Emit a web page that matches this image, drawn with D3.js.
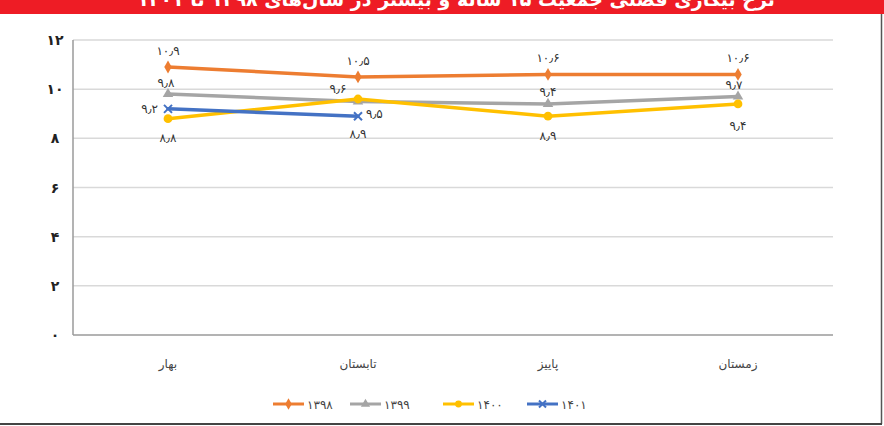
<!DOCTYPE html>
<html>
<head>
<meta charset="utf-8">
<script src="https://cdn.jsdelivr.net/npm/d3@7"></script>
<style>
  body { margin: 0; background: #fff; }
  svg { display: block; }
</style>
</head>
<body>
<div id="chart"></div>
<script>
var seasons = ["بهار", "تابستان", "پاییز", "زمستان"];
var years = ["1398", "1399", "1400", "1401"];
var v1398 = [10.9, 10.5, 10.6, 10.6];
var v1399 = [9.8, 9.5, 9.4, 9.7];
var v1400 = [8.8, 9.6, 8.9, 9.4];
var v1401 = [9.2, 8.9];
var yTicks = [0, 2, 4, 6, 8, 10, 12];
var colors = ["#ED7D31", "#A5A5A5", "#FFC000", "#4472C4"];
var markers = ["diamond", "triangle", "circle", "cross"];
// label placement per point: [dx, dy, anchor]
var labelPos = [
  [[0, -12, "middle"], [0, -12, "middle"], [0, -12, "middle"], [0, -12, "middle"]],
  [[-2, -7, "middle"], [8, 17, "start"], [0, -8, "middle"], [-4, -8, "middle"]],
  [[0, 23, "middle"], [-20, -6, "middle"], [0, 24, "middle"], [0, 26, "middle"]],
  [[-10, 4, "end"], [0, 22, "middle"]]
];

var width = 884, height = 426;
var margin = { left: 73, right: 51, top: 40, bottom: 91 };

function fa(s) {
  return String(s).replace(/[0-9]/g, d => "۰۱۲۳۴۵۶۷۸۹"[+d]).replace(".", "٫");
}

var series = [v1398, v1399, v1400, v1401].map((vals, i) => ({
  name: years[i], color: colors[i], marker: markers[i], labels: labelPos[i],
  values: vals.map((v, j) => ({ season: seasons[j], value: v }))
}));

var svg = d3.select("#chart").append("svg").attr("width", width).attr("height", height);
var font = "'DejaVu Sans', sans-serif";

// red title bar, text cut off by the top edge as in the source
svg.append("rect").attr("x", 0).attr("y", 0).attr("width", width).attr("height", 14).attr("fill", "#EE1C25");
svg.append("text").text("نرخ بیکاری فصلی جمعیت ۱۵ ساله و بیشتر در سال‌های ۱۳۹۸ تا ۱۴۰۱")
  .attr("x", 775).attr("y", 6).attr("direction", "rtl").attr("text-anchor", "start")
  .style("font-family", font).style("font-size", "19px").style("font-weight", 700).attr("fill", "#fff");

// frame lines right and bottom
svg.append("line").attr("x1", 881.5).attr("x2", 881.5).attr("y1", 14).attr("y2", 424).attr("stroke", "#555").attr("stroke-width", 1.5);
svg.append("line").attr("x1", 0).attr("x2", 882).attr("y1", 424).attr("y2", 424).attr("stroke", "#444").attr("stroke-width", 2);

var x = d3.scaleBand().domain(seasons).range([margin.left, width - margin.right]);
var y = d3.scaleLinear().domain([0, 12]).range([height - margin.bottom, margin.top]);

// grid
svg.append("g").selectAll("line").data(yTicks.filter(d => d > 0)).enter().append("line")
  .attr("x1", margin.left).attr("x2", width - margin.right)
  .attr("y1", d => y(d)).attr("y2", d => y(d))
  .attr("stroke", "#D9D9D9").attr("stroke-width", 1.5);

// axes lines
svg.append("line").attr("x1", margin.left).attr("x2", margin.left).attr("y1", y(12)).attr("y2", y(0))
  .attr("stroke", "#9A9A9A").attr("stroke-width", 1.5);
svg.append("line").attr("x1", margin.left).attr("x2", width - margin.right).attr("y1", y(0)).attr("y2", y(0))
  .attr("stroke", "#9A9A9A").attr("stroke-width", 1.5);

// y tick labels
svg.append("g").selectAll("text").data(yTicks).enter().append("text")
  .text(d => fa(d))
  .attr("x", 55).attr("y", d => y(d) + 5).attr("text-anchor", "middle")
  .style("font-family", font).style("font-size", "14px").style("font-weight", 700).attr("fill", "#222");

// x labels
svg.append("g").selectAll("text").data(seasons).enter().append("text")
  .text(d => d)
  .attr("x", d => x(d) + x.bandwidth() / 2).attr("y", 368).attr("text-anchor", "middle")
  .style("font-family", font).style("font-size", "12px").attr("fill", "#444");

var line = d3.line().x(d => x(d.season) + x.bandwidth() / 2).y(d => y(d.value));

function drawMarker(g, type, color, cx, cy, s) {
  if (type === "cross") {
    g.append("path").attr("d", `M${cx - s},${cy - s}L${cx + s},${cy + s}M${cx - s},${cy + s}L${cx + s},${cy - s}`)
      .attr("stroke", color).attr("stroke-width", 2).attr("fill", "none");
  } else {
    var sym = { diamond: d3.symbolDiamond, triangle: d3.symbolTriangle, circle: d3.symbolCircle }[type];
    g.append("path").attr("d", d3.symbol().type(sym).size(s * s * 3)())
      .attr("transform", `translate(${cx},${cy})`).attr("fill", color);
  }
}

var gs = svg.append("g").selectAll("g").data(series).enter().append("g");
gs.each(function (s) {
  var g = d3.select(this);
  g.append("path").datum(s.values).attr("d", line).attr("fill", "none")
    .attr("stroke", s.color).attr("stroke-width", 3.5).attr("stroke-linecap", "round");
  s.values.forEach((d, i) => {
    var cx = x(d.season) + x.bandwidth() / 2, cy = y(d.value);
    drawMarker(g, s.marker, s.color, cx, cy, s.marker === "circle" ? 4.5 : 4);
  });
});
gs.each(function (s) {
  var g = d3.select(this);
  s.values.forEach((d, i) => {
    var p = s.labels[i];
    g.append("text").text(fa(d.value))
      .attr("x", x(d.season) + x.bandwidth() / 2 + p[0]).attr("y", y(d.value) + p[1])
      .attr("text-anchor", p[2])
      .style("font-family", font).style("font-size", "12px").attr("fill", "#333");
  });
});

// legend
var legendX = [273, 350, 443, 527];
var legend = svg.append("g").selectAll("g").data(series).enter().append("g")
  .attr("transform", (d, i) => `translate(${legendX[i]},404)`);
legend.each(function (s) {
  var g = d3.select(this);
  g.append("line").attr("x1", 0).attr("x2", 31).attr("y1", 0).attr("y2", 0)
    .attr("stroke", s.color).attr("stroke-width", 3);
  drawMarker(g, s.marker, s.color, 15.5, 0, 3.5);
  g.append("text").text(fa(s.name)).attr("x", 34).attr("y", 4.5)
    .style("font-family", font).style("font-size", "12px").attr("fill", "#444");
});
</script>
</body>
</html>
